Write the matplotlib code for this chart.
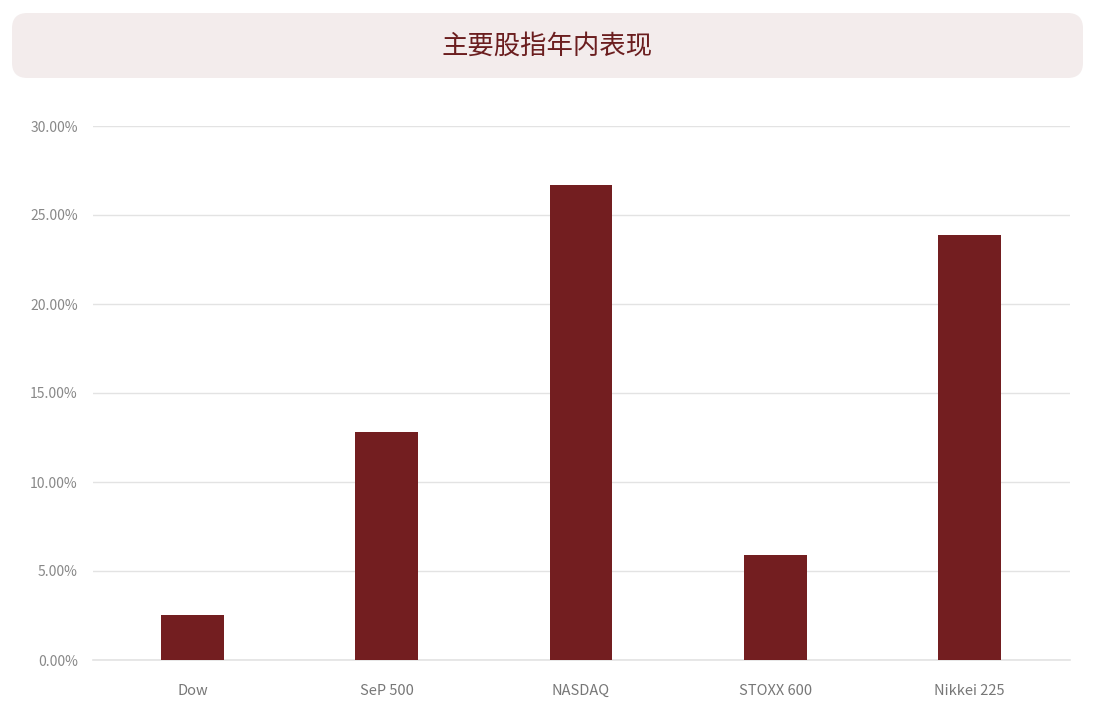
import matplotlib
matplotlib.use("Agg")
import matplotlib.pyplot as plt
from matplotlib.patches import FancyBboxPatch
from matplotlib.ticker import FuncFormatter

plt.rcParams['font.family'] = ['Noto Sans CJK SC', 'DejaVu Sans']

# données
indices = ['Dow', 'SeP 500', 'NASDAQ', 'STOXX 600', 'Nikkei 225']
perf = [2.53, 12.81, 26.69, 5.90, 23.88]
yticks = [0, 5, 10, 15, 20, 25, 30]
titre = '主要股指年内表现'

W, H = 1099, 710
fig = plt.figure(figsize=(W / 100, H / 100), dpi=100)

# bandeau du titre
box = FancyBboxPatch((12 / W, 1 - 78 / H), (1083 - 12) / W, (78 - 13) / H,
                     boxstyle="round,pad=0,rounding_size=0.014",
                     transform=fig.transFigure, facecolor='#f3ecec',
                     edgecolor='none', mutation_aspect=W / H)
fig.patches.append(box)
fig.text(547 / W, 1 - 46 / H, titre, ha='center', va='center',
         fontsize=19, color='#6b1e1f')

ax = fig.add_axes([93 / W, 1 - 660 / H, (1070 - 93) / W, (660 - 126) / H])
ax.bar(range(len(indices)), perf, width=0.324, color='#731e20', zorder=3)
ax.set_xlim(-0.512, len(indices) - 0.483)
ax.set_ylim(0, 30)
ax.set_yticks(yticks)
ax.yaxis.set_major_formatter(FuncFormatter(lambda v, p: f'{v:.2f}%'))
ax.set_xticks(range(len(indices)))
ax.set_xticklabels(indices)
ax.grid(axis='y', color='#e3e3e3', linewidth=1, zorder=0)
ax.axhline(0, color='#e3e3e3', linewidth=1.2, zorder=1, clip_on=False)
for s in ax.spines.values():
    s.set_visible(False)
ax.tick_params(length=0, colors='#888888', labelsize=10)
ax.tick_params(axis='y', pad=11)
ax.tick_params(axis='x', pad=17, labelsize=10.5)
for lab in ax.get_xticklabels():
    lab.set_color('#777777')

fig.savefig('out.png', dpi=100)
